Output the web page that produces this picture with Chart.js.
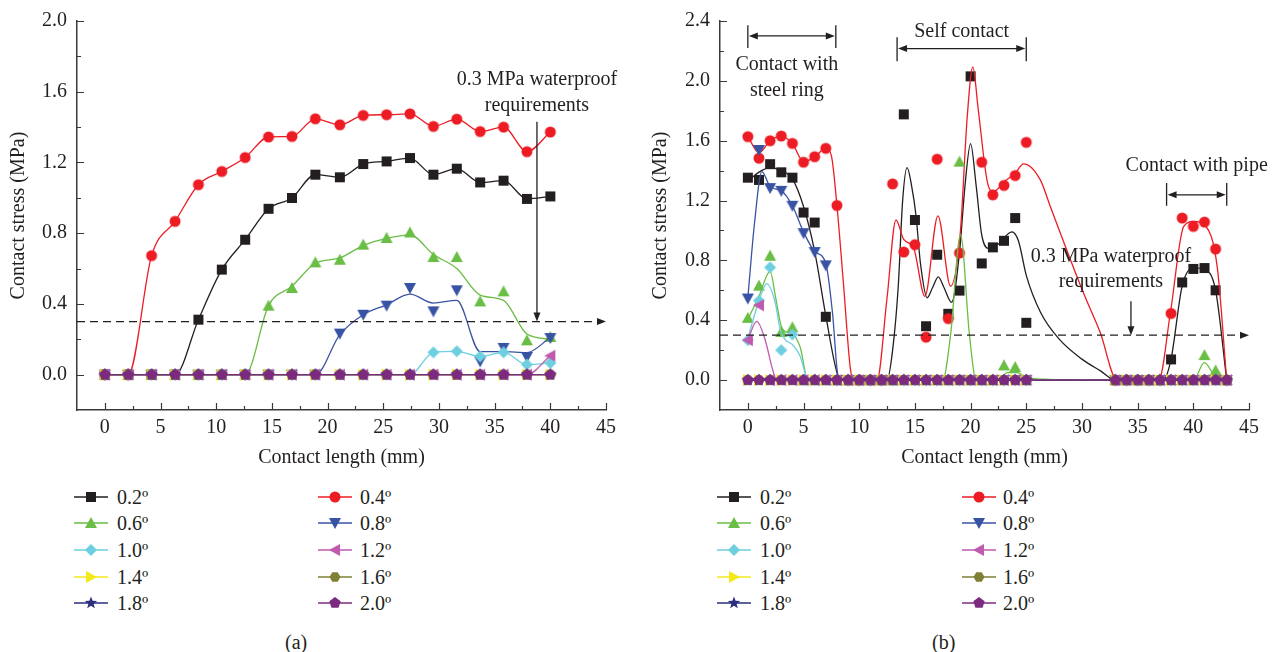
<!DOCTYPE html>
<html>
<head>
<meta charset="utf-8">
<script src="https://cdn.jsdelivr.net/npm/chart.js@4/dist/chart.umd.min.js"></script>
<style>
  body { margin: 0; width: 1285px; height: 652px; background: #fff; position: relative; overflow: hidden;
         font-family: "Liberation Serif", serif; color: #231f20; }
  canvas.plot { position: absolute; top: 0; }
  .lgIcon { position: absolute; }
  .lgText, .cap { position: absolute; font-size: 20px; line-height: 24px; white-space: nowrap; }
</style>
</head>
<body>
<canvas id="chartA" class="plot" width="640" height="470" style="left:0"></canvas>
<canvas id="chartB" class="plot" width="645" height="470" style="left:640px"></canvas>
<div class="cap" style="left:285px;top:630px">(a)</div>
<div class="cap" style="left:932px;top:630px">(b)</div>
<script>
// ---------- shared ----------
const LABELS = ["0.2º", "0.4º", "0.6º", "0.8º", "1.0º", "1.2º", "1.4º", "1.6º", "1.8º", "2.0º"];
const X_TICKS = [0, 5, 10, 15, 20, 25, 30, 35, 40, 45];
const Y_TICKS_A = [0, 0.4, 0.8, 1.2, 1.6, 2.0];
const Y_TICKS_B = [0, 0.4, 0.8, 1.2, 1.6, 2.0, 2.4];

// ---------- panel (a) ----------
const X_A = [0, 2.1, 4.2, 6.3, 8.4, 10.5, 12.6, 14.7, 16.8, 18.9, 21.1, 23.2, 25.3, 27.4, 29.5, 31.6, 33.7, 35.8, 37.9, 40];
const A_02 = [0, 0, 0, 0, 0.311, 0.594, 0.763, 0.938, 0.999, 1.131, 1.116, 1.191, 1.206, 1.225, 1.131, 1.165, 1.087, 1.097, 0.994, 1.008];
const A_04 = [0, 0, 0.673, 0.867, 1.074, 1.149, 1.228, 1.344, 1.347, 1.447, 1.413, 1.466, 1.47, 1.475, 1.404, 1.445, 1.375, 1.40, 1.261, 1.372];
const A_06 = [0, 0, 0, 0, 0, 0, 0, 0.39, 0.49, 0.635, 0.65, 0.735, 0.773, 0.804, 0.665, 0.665, 0.414, 0.471, 0.194, 0.213];
const A_08 = [0, 0, 0, 0, 0, 0, 0, 0, 0, 0, 0.232, 0.339, 0.39, 0.49, 0.358, 0.477, 0.075, 0.151, 0.1, 0.207];
const A_10 = [0, 0, 0, 0, 0, 0, 0, 0, 0, 0, 0, 0, 0, 0, 0.126, 0.132, 0.103, 0.126, 0.057, 0.066];
const A_12 = [0, 0, 0, 0, 0, 0, 0, 0, 0, 0, 0, 0, 0, 0, 0, 0, 0, 0, 0, 0.107];
const A_ZERO = [0, 0, 0, 0, 0, 0, 0, 0, 0, 0, 0, 0, 0, 0, 0, 0, 0, 0, 0, 0];
// fitted curves (a)
const FIT_A_06 = [0, 0, 0, 0, 0, 0, 0, 0.39, 0.5, 0.63, 0.66, 0.73, 0.77, 0.79, 0.68, 0.6, 0.45, 0.42, 0.23, 0.2];
const FIT_A_08 = [0, 0, 0, 0, 0, 0, 0, 0, 0, 0, 0.226, 0.339, 0.395, 0.455, 0.405, 0.42, 0.13, 0.13, 0.125, 0.21];

// ---------- panel (b) ----------
const X_B = [0, 1, 2, 3, 4, 5, 6, 7, 8, 9, 10, 11, 12, 13, 14, 15, 16, 17, 18, 19, 20, 21, 22, 23, 24, 25,
             33, 34, 35, 36, 37, 38, 39, 40, 41, 42, 43];
const B_02 = [1.353, 1.338, 1.443, 1.389, 1.353, 1.12, 1.053, 0.423, 0, 0, 0, 0, 0, 0, 1.776, 1.07, 0.36, 0.838, 0.443, 0.598, 2.03, 0.78, 0.887, 0.931, 1.083, 0.383,
              0, 0, 0, 0, 0, 0.138, 0.653, 0.743, 0.749, 0.6, 0];
const B_04 = [1.627, 1.483, 1.6, 1.631, 1.582, 1.456, 1.493, 1.549, 1.167, 0, 0, 0, 0, 1.311, 0.856, 0.905, 0.287, 1.476, 0.411, 0.849, null, 1.456, 1.238, 1.301, 1.367, 1.589,
              0, 0, 0, 0, 0, 0.445, 1.083, 1.027, 1.056, 0.876, 0];
const B_06 = [0.416, 0.631, 0.831, 0.322, 0.353, 0, 0, 0, 0, 0, 0, 0, 0, 0, 0, 0, 0, 0, 0, 1.46, 0, 0, 0, 0.098, 0.087, 0,
              0, 0, 0, 0, 0, 0, 0, 0, 0.167, 0.065, 0];
const B_08 = [0.545, 1.538, 1.283, 1.265, 1.165, 0.982, 0.856, 0.767, 0, 0, 0, 0, 0, 0, 0, 0, 0, 0, 0, 0, 0, 0, 0, 0, 0, 0,
              0, 0, 0, 0, 0, 0, 0, 0, 0, 0, 0];
const B_10 = [0.267, 0.531, 0.753, 0.2, 0.305, 0, 0, 0, 0, 0, 0, 0, 0, 0, 0, 0, 0, 0, 0, 0, 0, 0, 0, 0, 0, 0,
              0, 0, 0, 0, 0, 0, 0, 0, 0, 0, 0];
const B_12 = [0.267, 0.5, 0, 0, 0, 0, 0, 0, 0, 0, 0, 0, 0, 0, 0, 0, 0, 0, 0, 0, 0, 0, 0, 0, 0, 0,
              0, 0, 0, 0, 0, 0, 0, 0, 0, 0, 0];
const B_ZERO = [0, 0, 0, 0, 0, 0, 0, 0, 0, 0, 0, 0, 0, 0, 0, 0, 0, 0, 0, 0, 0, 0, 0, 0, 0, 0,
                0, 0, 0, 0, 0, 0, 0, 0, 0, 0, 0];
// fitted curves (b)
const FIT_B_02_X = [0, 1, 2, 3, 4, 5, 6, 7, 8, 8.4, 12.5, 13, 13.5, 13.9, 14.3, 14.7, 15.1, 15.5, 16.1, 16.6, 17.1, 17.6, 18.3, 19, 19.5, 20, 20.5, 21, 21.6, 22.5,
                    23.7, 24.3, 25, 26.3, 28, 30, 31.7, 33, 37.3, 38, 39, 40, 41, 42, 43];
const FIT_B_02_Y = [1.33, 1.39, 1.42, 1.40, 1.345, 1.16, 0.86, 0.43, 0.05, 0, 0, 0.2, 0.62, 1.2, 1.42, 1.3, 1.1, 0.78, 0.55, 0.62, 0.69, 0.62, 0.52, 0.85, 1.3, 1.58, 1.3, 0.97, 0.88, 0.91,
                    0.99, 0.93, 0.7, 0.45, 0.27, 0.14, 0.06, 0, 0, 0.14, 0.63, 0.75, 0.74, 0.6, 0];
const FIT_B_04_X = [0, 1, 2, 3, 4, 5, 6, 7, 7.5, 8, 8.6, 9.2, 9.5, 11.6, 12.5, 13.3, 14, 14.9, 15.9, 17.07, 18.2, 19.07, 19.7, 20.2, 20.7, 21.5, 22.07, 23.03, 24, 24.76,
                    26.26, 27.16, 28.07, 30.15, 31.65, 33.15, 36.9, 37.94, 39.14, 40.04, 41.1, 42.14, 43];
const FIT_B_04_Y = [1.627, 1.52, 1.6, 1.63, 1.58, 1.46, 1.49, 1.55, 1.5, 1.167, 0.63, 0.08, 0, 0, 0.55, 1.07, 0.94, 0.88, 0.56, 1.098, 0.627, 0.98, 1.76, 2.093, 1.8, 1.327, 1.26, 1.327, 1.382, 1.445,
                    1.338, 1.16, 0.98, 0.58, 0.316, 0, 0, 0.45, 1.027, 1.06, 1.03, 0.76, 0];
const FIT_B_06_X = [0, 1, 2, 2.5, 3, 3.5, 4, 4.7, 5.4, 17.5, 18.2, 19.1, 19.9, 20.5, 22.5, 23.3, 24.2, 25, 27, 33, 40, 41, 42, 43];
const FIT_B_06_Y = [0.405, 0.56, 0.727, 0.55, 0.36, 0.32, 0.31, 0.22, 0, 0, 0.3, 0.97, 0.3, 0, 0, 0.05, 0.05, 0.02, 0.005, 0, 0, 0.116, 0.02, 0];
const FIT_B_08_X = [0, 0.6, 1.26, 2, 3, 4, 5, 6, 7, 7.6, 8.1, 8.5];
const FIT_B_08_Y = [0.55, 1.05, 1.393, 1.293, 1.265, 1.165, 0.99, 0.86, 0.78, 0.45, 0.03, 0];
const FIT_B_10_X = [0, 1, 1.7, 2.45, 2.9, 3.35, 3.95, 4.7, 5.3];
const FIT_B_10_Y = [0.28, 0.53, 0.645, 0.52, 0.34, 0.27, 0.24, 0.16, 0];
const FIT_B_12_X = [0, 0.8, 1.55, 2.15, 2.5];
const FIT_B_12_Y = [0.27, 0.393, 0.27, 0.09, 0];

// ---------- styles ----------
const INK = "#231f20";
const COLORS = ["#231f20", "#ed1c24", "#6abd45", "#3953a4", "#6dcfdf", "#bf5aae", "#f2e81c", "#7f7f36", "#2b2d7f", "#7b2a7f"];
const SHAPES = ["square", "circle", "triUp", "triDown", "diamond", "triLeft", "triRight", "hexagon", "star", "pentagon"];

Chart.defaults.font.family = '"Liberation Serif", serif';
Chart.defaults.font.size = 20;
Chart.defaults.color = INK;

function poly(g, pts, rotDeg) {
    const r = (rotDeg || 0) * Math.PI / 180;
    pts.forEach((p, i) => {
        const x = p[0] * Math.cos(r) - p[1] * Math.sin(r);
        const y = p[0] * Math.sin(r) + p[1] * Math.cos(r);
        if (i === 0) g.moveTo(x, y); else g.lineTo(x, y);
    });
}
function regular(n, rad, start) {
    const pts = [];
    for (let i = 0; i < n; i++) {
        const a = start + i * 2 * Math.PI / n;
        pts.push([rad * Math.cos(a), rad * Math.sin(a)]);
    }
    return pts;
}
function markerCanvas(shape, color) {
    const c = document.createElement("canvas");
    c.width = 16; c.height = 16;
    const g = c.getContext("2d");
    g.fillStyle = color;
    g.translate(8, 8);
    g.beginPath();
    const tri = [[0, -6], [6, 5], [-6, 5]];
    if (shape === "square") g.rect(-5, -5, 10, 10);
    else if (shape === "circle") g.arc(0, 0, 5.5, 0, Math.PI * 2);
    else if (shape === "triUp") poly(g, tri, 0);
    else if (shape === "triRight") poly(g, tri, 90);
    else if (shape === "triDown") poly(g, tri, 180);
    else if (shape === "triLeft") poly(g, tri, 270);
    else if (shape === "diamond") poly(g, [[0, -6], [6, 0], [0, 6], [-6, 0]]);
    else if (shape === "hexagon") poly(g, regular(6, 5.5, 0));
    else if (shape === "pentagon") poly(g, regular(5, 6, -Math.PI / 2));
    else if (shape === "star") {
        const pts = [];
        for (let i = 0; i < 10; i++) {
            const a = -Math.PI / 2 + i * Math.PI / 5;
            const rr = i % 2 ? 2.7 : 6.5;
            pts.push([rr * Math.cos(a), rr * Math.sin(a)]);
        }
        poly(g, pts);
    }
    g.closePath();
    g.fill();
    return c;
}
const MARKERS = SHAPES.map((s, k) => markerCanvas(s, COLORS[k]));

function buildDatasets(xs, pointSets, fitSets) {
    const ds = [];
    pointSets.forEach((ys, k) => {
        const fit = fitSets[k];
        const lineData = fit ? fit[0].map((x, i) => ({ x: x, y: fit[1][i] }))
                             : xs.map((x, i) => ({ x: x, y: ys[i] }));
        ds.push({
            label: LABELS[k], data: lineData, borderColor: COLORS[k], borderWidth: 1.3,
            pointRadius: 0, cubicInterpolationMode: "monotone", order: (10 - k) * 2
        });
        ds.push({
            label: LABELS[k], data: xs.map((x, i) => ({ x: x, y: ys[i] })), showLine: false,
            pointStyle: MARKERS[k], pointRadius: 5, order: (10 - k) * 2 - 1
        });
    });
    return ds;
}

// inward major/minor ticks
const innerTicks = {
    id: "innerTicks",
    afterDraw(chart) {
        const { ctx, chartArea: a, scales: { x, y } } = chart;
        ctx.save();
        ctx.strokeStyle = "#3a3a3a";
        ctx.lineWidth = 1.2;
        ctx.beginPath();
        const xt = x.ticks.map(t => t.value), yt = y.ticks.map(t => t.value);
        xt.forEach((v, i) => {
            const p = Math.round(x.getPixelForValue(v)) + 0.5;
            ctx.moveTo(p, a.bottom); ctx.lineTo(p, a.bottom - 7);
            if (i < xt.length - 1) {
                const m = Math.round(x.getPixelForValue((v + xt[i + 1]) / 2)) + 0.5;
                ctx.moveTo(m, a.bottom); ctx.lineTo(m, a.bottom - 4);
            }
        });
        yt.forEach((v, i) => {
            const p = Math.round(y.getPixelForValue(v)) + 0.5;
            ctx.moveTo(a.left, p); ctx.lineTo(a.left + 7, p);
            if (i < yt.length - 1) {
                const m = Math.round(y.getPixelForValue((v + yt[i + 1]) / 2)) + 0.5;
                ctx.moveTo(a.left, m); ctx.lineTo(a.left + 4, m);
            }
        });
        ctx.stroke();
        ctx.restore();
    }
};

function head(ctx, x, y, dx, dy) {
    const len = 9, half = 3.5;
    ctx.beginPath();
    ctx.moveTo(x, y);
    ctx.lineTo(x - dx * len - dy * half, y - dy * len + dx * half);
    ctx.lineTo(x - dx * len + dy * half, y - dy * len - dx * half);
    ctx.closePath();
    ctx.fill();
}
function threshold(ctx, a, py) {
    ctx.save();
    ctx.setLineDash([8, 5]);
    ctx.beginPath();
    ctx.moveTo(a.left, py); ctx.lineTo(a.right - 9, py);
    ctx.stroke();
    ctx.restore();
    head(ctx, a.right, py, 1, 0);
}
function vArrow(ctx, px, y1, y2) {
    ctx.beginPath();
    ctx.moveTo(px, y1); ctx.lineTo(px, y2 - 8);
    ctx.stroke();
    head(ctx, px, y2, 0, 1);
}
function bracket(ctx, x1, x2, py, top, bot) {
    ctx.beginPath();
    ctx.moveTo(x1, top); ctx.lineTo(x1, bot);
    ctx.moveTo(x2, top); ctx.lineTo(x2, bot);
    ctx.moveTo(x1 + 8, py); ctx.lineTo(x2 - 8, py);
    ctx.stroke();
    head(ctx, x1 + 1, py, -1, 0);
    head(ctx, x2 - 1, py, 1, 0);
}
function text(ctx, s, px, py) {
    ctx.fillText(s, px, py);
}
function notesPlugin(id, draw) {
    return {
        id: id,
        afterDatasetsDraw(chart) {
            const { ctx, chartArea: a, scales: { x, y } } = chart;
            ctx.save();
            ctx.strokeStyle = INK; ctx.fillStyle = INK; ctx.lineWidth = 1.3;
            ctx.font = '20px "Liberation Serif"';
            ctx.textAlign = "center"; ctx.textBaseline = "middle";
            draw(ctx, a, v => x.getPixelForValue(v), v => y.getPixelForValue(v));
            ctx.restore();
        }
    };
}
const notesA = notesPlugin("notesA", (ctx, a, X, Y) => {
    threshold(ctx, a, Y(0.3));
    vArrow(ctx, X(38.8), Y(1.43), Y(0.3));
    text(ctx, "0.3 MPa waterproof", X(38.8), Y(1.668));
    text(ctx, "requirements", X(38.8), Y(1.52));
});
const notesB = notesPlugin("notesB", (ctx, a, X, Y) => {
    threshold(ctx, a, Y(0.3));
    bracket(ctx, X(0), X(7.9), Y(2.3), Y(2.371), Y(2.219));
    text(ctx, "Contact with", X(3.5), Y(2.105));
    text(ctx, "steel ring", X(3.5), Y(1.933));
    bracket(ctx, X(13.4), X(25.0), Y(2.216), Y(2.291), Y(2.131));
    text(ctx, "Self contact", X(19.2), Y(2.327));
    bracket(ctx, X(37.6), X(43.0), Y(1.238), Y(1.318), Y(1.165));
    text(ctx, "Contact with pipe", X(40.3), Y(1.433));
    text(ctx, "0.3 MPa waterproof", X(32.6), Y(0.827));
    text(ctx, "requirements", X(32.6), Y(0.66));
    vArrow(ctx, X(34.4), Y(0.527), Y(0.3));
});

function makeChart(id, xs, pointSets, fitSets, yMax, yTicks, yWidth, padRight, titlePad, notes) {
    return new Chart(document.getElementById(id), {
        type: "line",
        data: { datasets: buildDatasets(xs, pointSets, fitSets) },
        options: {
            responsive: false, animation: false, devicePixelRatio: 1,
            layout: { padding: { top: 21, right: padRight, left: 0, bottom: 0 } },
            plugins: { legend: { display: false }, tooltip: { enabled: false } },
            scales: {
                x: {
                    type: "linear", min: -2.5, max: 45,
                    afterBuildTicks: s => { s.ticks = X_TICKS.map(v => ({ value: v })); },
                    afterFit: s => { s.height = 60; s.paddingLeft = 0; s.paddingRight = 0; },
                    grid: { display: true, drawOnChartArea: false, drawTicks: false },
                    border: { display: true, color: "#3a3a3a", width: 1.5 },
                    ticks: { padding: 6, color: INK, maxRotation: 0 },
                    title: { display: true, text: "Contact length (mm)", color: INK, padding: { top: 0, bottom: 0 } }
                },
                y: {
                    type: "linear", min: -0.2, max: yMax,
                    afterBuildTicks: s => { s.ticks = yTicks.map(v => ({ value: v })); },
                    afterFit: s => { s.width = yWidth; s.paddingTop = 0; s.paddingBottom = 0; },
                    grid: { display: true, drawOnChartArea: false, drawTicks: false },
                    border: { display: true, color: "#3a3a3a", width: 1.5 },
                    ticks: { padding: 10, color: INK, callback: v => Number(v).toFixed(1) },
                    title: { display: true, text: "Contact stress (MPa)", color: INK, padding: { top: titlePad, bottom: 0 } }
                }
            }
        },
        plugins: [innerTicks, notes]
    });
}

makeChart("chartA", X_A,
    [A_02, A_04, A_06, A_08, A_10, A_12, A_ZERO, A_ZERO, A_ZERO, A_ZERO],
    [null, null, [X_A, FIT_A_06], [X_A, FIT_A_08], null, null, null, null, null, null],
    2.0, Y_TICKS_A, 77, 34, 7, notesA);

makeChart("chartB", X_B,
    [B_02, B_04, B_06, B_08, B_10, B_12, B_ZERO, B_ZERO, B_ZERO, B_ZERO],
    [[FIT_B_02_X, FIT_B_02_Y], [FIT_B_04_X, FIT_B_04_Y], [FIT_B_06_X, FIT_B_06_Y], [FIT_B_08_X, FIT_B_08_Y],
     [FIT_B_10_X, FIT_B_10_Y], [FIT_B_12_X, FIT_B_12_Y], null, null, null, null],
    2.4, Y_TICKS_B, 80, 36, 9, notesB);

// ---------- legends ----------
const LEGEND_POS = [{ sym: [74, 318], txt: [117, 360] }, { sym: [717, 962], txt: [760, 1003] }];
LEGEND_POS.forEach(pos => {
    LABELS.forEach((lab, k) => {
        const row = Math.floor(k / 2), col = k % 2;
        const cy = 496.7 + row * 26.67;
        const icon = document.createElement("canvas");
        icon.width = 34; icon.height = 16;
        icon.className = "lgIcon";
        icon.style.left = pos.sym[col] + "px";
        icon.style.top = Math.round(cy - 8) + "px";
        const g = icon.getContext("2d");
        g.strokeStyle = COLORS[k]; g.lineWidth = 1.4;
        g.beginPath(); g.moveTo(0, 8); g.lineTo(34, 8); g.stroke();
        g.drawImage(MARKERS[k], 9, 0);
        document.body.appendChild(icon);
        const t = document.createElement("div");
        t.className = "lgText";
        t.textContent = lab;
        t.style.left = pos.txt[col] + "px";
        t.style.top = Math.round(cy - 12) + "px";
        document.body.appendChild(t);
    });
});
</script>
</body>
</html>
